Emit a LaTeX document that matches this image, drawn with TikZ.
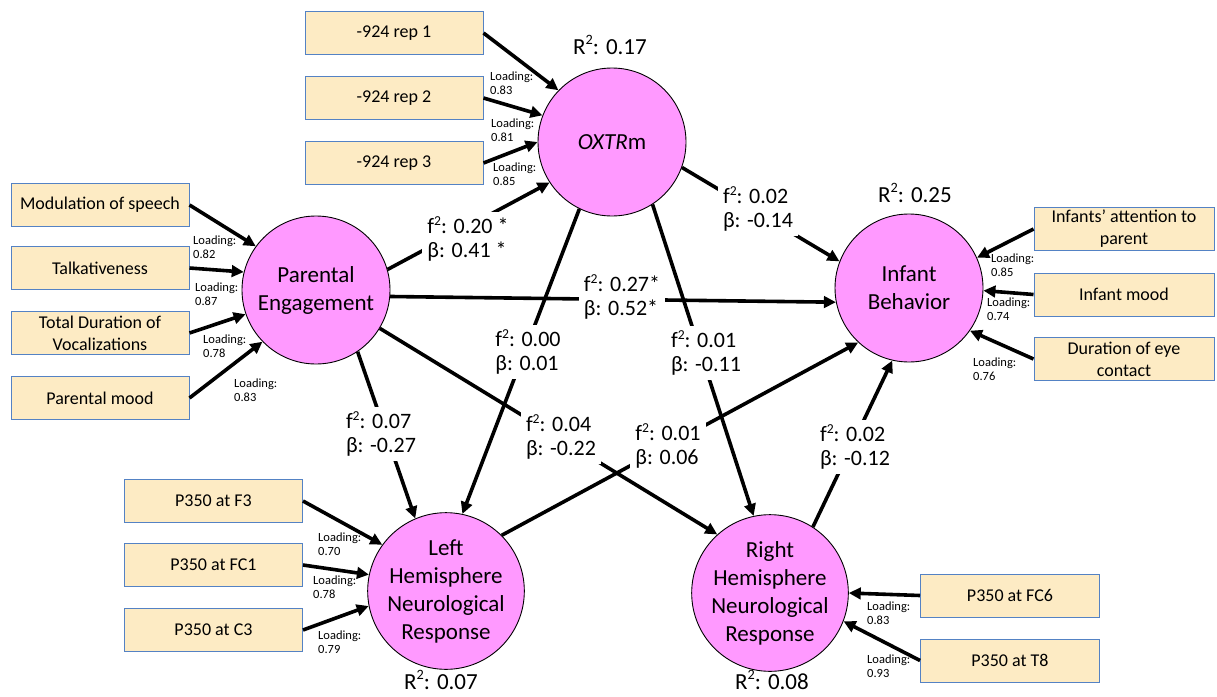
\documentclass[tikz,border=0pt]{standalone}
\usepackage{fontspec}
\setmainfont{Carlito}
\usetikzlibrary{arrows.meta}
\definecolor{lv}{RGB}{255,153,255}
\definecolor{boxfill}{RGB}{253,235,196}
\definecolor{boxline}{RGB}{84,130,196}
\newcommand\sqtwo{\raisebox{0.4em}{\scalebox{0.62}{2}}}
\begin{document}
\begin{tikzpicture}[x=1pt,y=-1pt,
  latent/.style={circle,draw=black,line width=0.9pt,fill=lv,minimum size=148pt,inner sep=0pt,align=center,font=\fontsize{23}{28}\selectfont},
  ind/.style={rectangle,draw=boxline,line width=1pt,fill=boxfill,minimum width=178pt,minimum height=43pt,inner sep=2pt,align=center,font=\fontsize{18}{22}\selectfont},
  arr/.style={line width=3.6pt,-{Triangle[length=12pt,width=11.5pt]}},
  pathlbl/.style={fill=white,inner xsep=5pt,inner ysep=4pt,align=left,font=\fontsize{22}{24}\selectfont},
  load/.style={anchor=north west,inner sep=0pt,align=left,font=\fontsize{12.5}{14}\selectfont},
  rsq/.style={font=\fontsize{23}{28}\selectfont,inner sep=0pt}
]
\useasboundingbox (0,0) rectangle (1217,696);

% latent variables
\node[latent] (ox) at (612,142) {\textit{OXTR}m};
\node[latent] (pe) at (316,290) {Parental\\Engagement};
\node[latent] (ib) at (909,288) {Infant\\Behavior};
\node[latent] (lh) at (446,591) {Left\\Hemisphere\\Neurological\\Response};
\node[latent] (rh) at (770,593) {Right\\Hemisphere\\Neurological\\Response};

% indicators
\node[ind] (r1) at (394,33) {-924 rep 1};
\node[ind] (r2) at (394,98) {-924 rep 2};
\node[ind] (r3) at (394,163) {-924 rep 3};
\node[ind] (m1) at (100,205) {Modulation of speech};
\node[ind] (m2) at (100,268) {Talkativeness};
\node[ind] (m3) at (100,333) {Total Duration of\\Vocalizations};
\node[ind] (m4) at (100,398) {Parental mood};
\node[ind,minimum width=180pt] (i1) at (1124,229) {Infants’ attention to\\parent};
\node[ind,minimum width=180pt] (i2) at (1124,294.5) {Infant mood};
\node[ind,minimum width=180pt] (i3) at (1124,359) {Duration of eye\\contact};
\node[ind] (l1) at (213.5,501) {P350 at F3};
\node[ind] (l2) at (213.5,565) {P350 at FC1};
\node[ind] (l3) at (213.5,630) {P350 at C3};
\node[ind,minimum width=179pt] (q1) at (1010,595.5) {P350 at FC6};
\node[ind,minimum width=179pt] (q2) at (1010,660.5) {P350 at T8};

% measurement arrows
\draw[arr] (r1.east) -- (ox.136);
\draw[arr] (r2.east) -- (ox.159);
\draw[arr] (r3.east) -- (ox.180);
\draw[arr] (m1.east) -- (pe.144);
\draw[arr] (m2.east) -- (pe.166);
\draw[arr] (m3.east) -- (pe.199);
\draw[arr] (m4.east) -- (pe.224);
\draw[arr] (i1.west) -- (ib.24);
\draw[arr] (i2.west) -- (ib.-2);
\draw[arr] (i3.west) -- (ib.-35);
\draw[arr] (l1.east) -- (lh.144);
\draw[arr] (l2.east) -- (lh.168);
\draw[arr] (l3.east) -- (lh.191);
\draw[arr] (q1.west) -- (rh.0);
\draw[arr] (q2.west) -- (rh.-21);

% structural arrows
\draw[arr] (pe.16) -- (ox.213);
\draw[arr] (pe.-5) -- (ib.191);
\draw[arr] (ox.-20) -- (ib.159);
\draw[arr] (ox.244) -- (lh.78);
\draw[arr] (ox.-57) -- (rh.102);
\draw[arr] (pe.-56) -- (lh.113);
\draw[arr] (pe.-31) -- (rh.132);
\draw[arr] (lh.45) -- (ib.227);
\draw[arr] (rh.57) -- (ib.257);

% path labels
\node[pathlbl] (p1) at (468,239) {f\sqtwo: 0.20 *\\β: 0.41 *};
\node[pathlbl] (p2) at (622,297) {f\sqtwo: 0.27*\\β: 0.52*};
\node[pathlbl] (p3) at (758,209) {f\sqtwo: 0.02\\β: -0.14};
\node[pathlbl] (p4) at (528,352) {f\sqtwo: 0.00\\β: 0.01};
\node[pathlbl] (p5) at (706,353) {f\sqtwo: 0.01\\β: -0.11};
\node[pathlbl] (p6) at (381,434) {f\sqtwo: 0.07\\β: -0.27};
\node[pathlbl] (p7) at (561,437) {f\sqtwo: 0.04\\β: -0.22};
\node[pathlbl] (p8) at (668,446) {f\sqtwo: 0.01\\β: 0.06};
\node[pathlbl] (p9) at (855,447) {f\sqtwo: 0.02\\β: -0.12};

% R squared
\node[rsq] (rs1) at (610,45) {R\sqtwo: 0.17};
\node[rsq] (rs2) at (915,193) {R\sqtwo: 0.25};
\node[rsq] (rs3) at (441,680) {R\sqtwo: 0.07};
\node[rsq] (rs4) at (772,680) {R\sqtwo: 0.08};

% loadings
\node[load] (ld1) at (490,72) {Loading:\\0.83};
\node[load] (ld2) at (491,119) {Loading:\\0.81};
\node[load] (ld3) at (493,163) {Loading:\\0.85};
\node[load] (ld4) at (193,236) {Loading:\\0.82};
\node[load] (ld5) at (195,283) {Loading:\\0.87};
\node[load] (ld6) at (203,335) {Loading:\\0.78};
\node[load] (ld7) at (234,379) {Loading:\\0.83};
\node[load] (ld8) at (991,254) {Loading:\\0.85};
\node[load] (ld9) at (987,298) {Loading:\\0.74};
\node[load] (ld10) at (973,358) {Loading:\\0.76};
\node[load] (ld11) at (318,533) {Loading:\\0.70};
\node[load] (ld12) at (313,576) {Loading:\\0.78};
\node[load] (ld13) at (318,631) {Loading:\\0.79};
\node[load] (ld14) at (867,602) {Loading:\\0.83};
\node[load] (ld15) at (867,655) {Loading:\\0.93};
\end{tikzpicture}
\end{document}
